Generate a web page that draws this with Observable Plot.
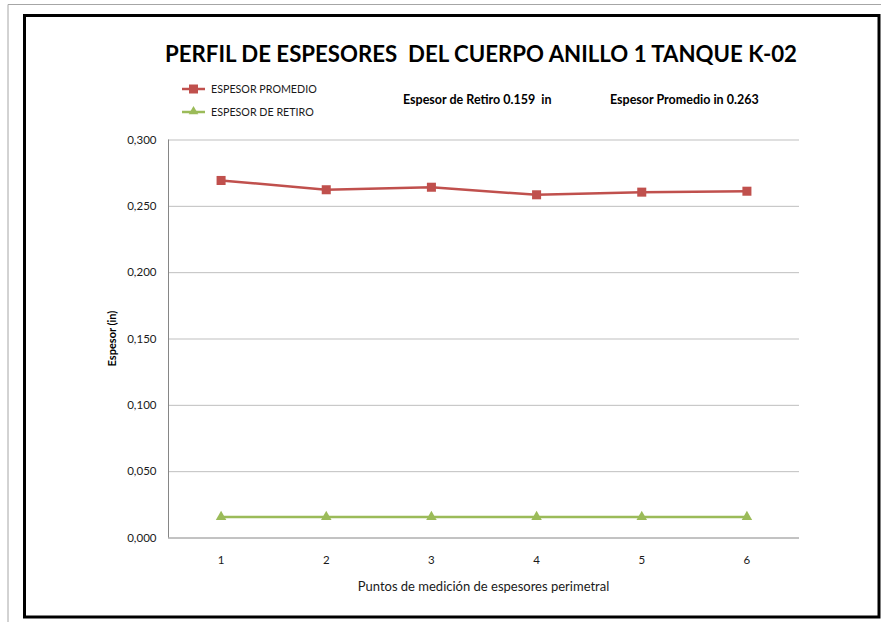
<!DOCTYPE html>
<html>
<head>
<meta charset="utf-8">
<script src="https://cdn.jsdelivr.net/npm/d3@7"></script>
<script src="https://cdn.jsdelivr.net/npm/@observablehq/plot@0.6"></script>
<style>
  html, body { margin: 0; padding: 0; background: #fff; }
  svg text { white-space: pre; }
</style>
</head>
<body>
<div id="chart"></div>
<script>
// Measurement points around the tank perimeter
const puntos = [1, 2, 3, 4, 5, 6];
// Average measured thickness at each point (in)
const espesorPromedio = [0.2695, 0.2625, 0.2644, 0.2587, 0.2607, 0.2614];
// Retirement thickness at each point (in)
const espesorRetiro = [0.0159, 0.0159, 0.0159, 0.0159, 0.0159, 0.0159];
// Y axis ticks
const yTicks = [0, 0.05, 0.1, 0.15, 0.2, 0.25, 0.3];

const titulo = "PERFIL DE ESPESORES  DEL CUERPO ANILLO 1 TANQUE K-02";
const serieNombres = ["ESPESOR PROMEDIO", "ESPESOR DE RETIRO"];
const notaRetiro = "Espesor de Retiro 0.159  in";
const notaPromedio = "Espesor Promedio in 0.263";
const yTitulo = "Espesor (in)";
const xTitulo = "Puntos de medición de espesores perimetral";

const rojo = "#C0504D";
const verde = "#9BBB59";

const promedio = puntos.map((p, i) => ({p, v: espesorPromedio[i]}));
const retiro = puntos.map((p, i) => ({p, v: espesorRetiro[i]}));
const fmt = d => d3.format(".3f")(d).replace(".", ",");

const W = 881, H = 622;
const chart = Plot.plot({
  width: W,
  height: H,
  marginLeft: 168,
  marginRight: 82,
  marginTop: 139.5,
  marginBottom: 84.5,
  style: {fontFamily: "Lato, 'Open Sans', sans-serif", fontSize: "11px", color: "#1a1a1a", background: "#fff"},
  x: {domain: [0.5, 6.5]},
  y: {domain: [0, 0.3]},
  marks: [
    Plot.ruleY(yTicks.filter(d => d > 0), {stroke: "#bfbfbf", strokeWidth: 1}),
    Plot.ruleY([0], {stroke: "#868686", strokeWidth: 1}),
    Plot.ruleX([0.5], {stroke: "#868686", strokeWidth: 1}),
    Plot.axisY({ticks: yTicks, tickSize: 0, tickPadding: 12, tickFormat: fmt, label: null, fontSize: 11.5}),
    Plot.axisX({ticks: puntos, tickSize: 0, tickPadding: 18, tickFormat: d => String(d), label: null, fontSize: 11.5}),
    Plot.line(promedio, {x: "p", y: "v", stroke: rojo, strokeWidth: 2.5}),
    Plot.dot(promedio, {x: "p", y: "v", symbol: "square", r: 5.1, fill: rojo, stroke: "none"}),
    Plot.line(retiro, {x: "p", y: "v", stroke: verde, strokeWidth: 2.5}),
    Plot.dot(retiro, {x: "p", y: "v", symbol: "triangle", r: 3.9, fill: verde, stroke: "none"})
  ]
});
document.getElementById("chart").appendChild(chart);

// Frame, title, legend and notes
const svg = d3.select(chart);
svg.append("line").attr("x1", 8).attr("x2", W).attr("y1", 4.5).attr("y2", 4.5)
  .attr("stroke", "#a6a6a6").attr("stroke-width", 1);
svg.append("line").attr("x1", 8).attr("x2", 8).attr("y1", 4.5).attr("y2", H)
  .attr("stroke", "#a6a6a6").attr("stroke-width", 1);
svg.append("rect").attr("x", 24.5).attr("y", 15.5).attr("width", 854.5).attr("height", 601.5)
  .attr("fill", "none").attr("stroke", "#000").attr("stroke-width", 3);

const txt = (x, y, s, size, weight, anchor = "start") =>
  svg.append("text").attr("x", x).attr("y", y)
    .attr("text-anchor", anchor)
    .attr("font-family", "Lato, sans-serif").attr("font-size", size)
    .attr("font-weight", weight).attr("fill", "#000").text(s);

txt(165, 62, titulo, 23, "bold")
  .attr("textLength", 632).attr("lengthAdjust", "spacingAndGlyphs");

const leg = [[rojo, "square", 89], [verde, "triangle", 112]];
leg.forEach(([c, s, y], i) => {
  svg.append("line").attr("x1", 182).attr("x2", 205).attr("y1", y).attr("y2", y)
    .attr("stroke", c).attr("stroke-width", 2.5);
  const sym = s === "square" ? d3.symbol(d3.symbolSquare, 81) : d3.symbol(d3.symbolTriangle, 40);
  svg.append("path").attr("d", sym()).attr("transform", `translate(193.5,${s === "square" ? y : y - 0.5})`).attr("fill", c);
  txt(211, y, serieNombres[i], 10.7, "normal").attr("dy", "0.35em").attr("fill", "#1a1a1a");
});

txt(403, 100, notaRetiro, 12.5, "bold").attr("dy", "0.35em");
txt(610, 100, notaPromedio, 12.5, "bold").attr("dy", "0.35em");

txt(0, 0, yTitulo, 11, "bold", "middle")
  .attr("transform", "translate(112,338.5) rotate(-90)").attr("dy", "0.35em");

txt(483.5, 586, xTitulo, 13, "normal", "middle").attr("dy", "0.35em").attr("fill", "#1a1a1a");
</script>
</body>
</html>
